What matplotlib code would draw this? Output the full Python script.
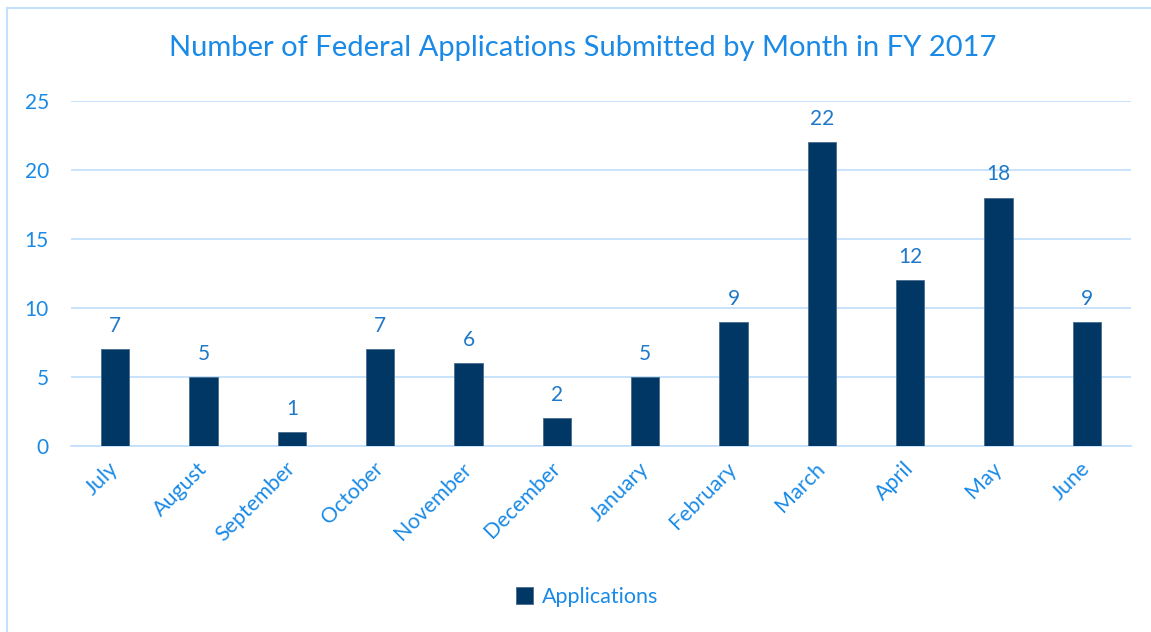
import matplotlib
matplotlib.use("Agg")
import matplotlib.pyplot as plt
import matplotlib.transforms as mtransforms
from matplotlib.lines import Line2D

months = ["July", "August", "September", "October", "November", "December",
          "January", "February", "March", "April", "May", "June"]
applications = [7, 5, 1, 7, 6, 2, 5, 9, 22, 12, 18, 9]
yticks = [0, 5, 10, 15, 20, 25]

BLUE_TXT = "#1a8ae6"
LABEL_TXT = "#1f78c8"
BAR = "#003764"
GRID = "#c3e1fa"

plt.rcParams['font.family'] = ['Lato', 'DejaVu Sans']

W, H = 1151, 632
fig = plt.figure(figsize=(W / 100, H / 100), dpi=100)
ax = fig.add_axes([71 / W, 1 - 446 / H, (1131 - 71) / W, (446 - 101) / H])

x = list(range(len(months)))
bars = ax.bar(x, applications, width=0.32, color=BAR, edgecolor="#4a6d8c",
              linewidth=0.6, zorder=3)
for xi, v in zip(x, applications):
    ax.text(xi, v + 0.95, str(v), ha="center", va="bottom", fontsize=15,
            color=LABEL_TXT)

ax.set_xlim(-0.5, len(months) - 0.5)
ax.set_ylim(0, 25)
ax.set_yticks(yticks)
ax.set_yticklabels([str(t) for t in yticks], fontsize=15, color=BLUE_TXT)
ax.yaxis.grid(True, color=GRID, linewidth=1.3, zorder=0)
ax.tick_params(axis="y", length=0, pad=16)
ax.tick_params(axis="x", length=0, pad=9)
ax.set_xticks(x)
ax.set_xticklabels(months, rotation=45, ha="right", rotation_mode="anchor",
                   fontsize=15.5, color=BLUE_TXT)
offset = mtransforms.ScaledTranslation(-7 / 100, 0, fig.dpi_scale_trans)
for lbl in ax.get_xticklabels():
    lbl.set_transform(lbl.get_transform() + offset)
for s in ["top", "right", "left"]:
    ax.spines[s].set_visible(False)
ax.spines["bottom"].set_color(GRID)
ax.spines["bottom"].set_linewidth(1.3)
ax.set_axisbelow(True)

fig.text(583 / W, 1 - 48 / H, "Number of Federal Applications Submitted by Month in FY 2017",
         ha="center", va="center", fontsize=21, color=BLUE_TXT)

leg = fig.legend([bars], ["Applications"], loc="center", bbox_to_anchor=(587 / W, 1 - 597 / H),
                 frameon=False, fontsize=15.5, handlelength=0.8, handleheight=0.8,
                 handletextpad=0.4, labelcolor=BLUE_TXT)

# chart frame
fig.add_artist(Line2D([7 / W, 7 / W], [0, 1 - 8 / H], color=GRID, linewidth=1.5))
fig.add_artist(Line2D([7 / W, 1], [1 - 8 / H, 1 - 8 / H], color=GRID, linewidth=1.5))

fig.savefig("out.png", dpi=100, facecolor="white")
